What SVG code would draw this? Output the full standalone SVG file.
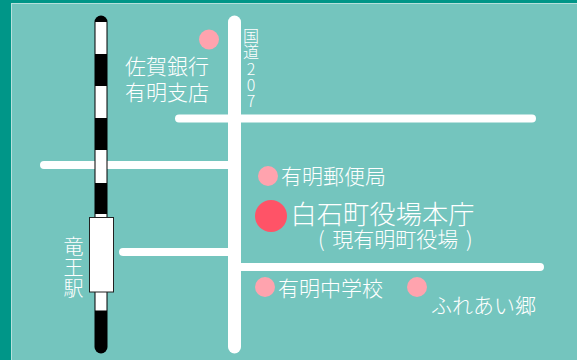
<svg xmlns="http://www.w3.org/2000/svg" width="577" height="360" viewBox="0 0 577 360">
<style>
.road{stroke:#fff;stroke-linecap:round;fill:none}
.spot{fill:#ffa3ae}
text{fill:#fff;font-family:"Noto Sans CJK JP","Noto Sans",sans-serif;font-weight:300}
.s21{font-size:21px}
.s20{font-size:20px}
.v{font-size:16px;text-anchor:middle}
</style>
<rect width="577" height="360" fill="#009688"/>
<rect x="11.500" y="3.500" width="566" height="357" fill="#74c5be" stroke="#b5e0dc" stroke-width="1"/>
<g id="connectors">
<path class="road" stroke-width="8" d="M44 165H234M179 118.500H532M123 252H234M234 267H540"/>
<path class="road" stroke-width="13" d="M234.500 22V347"/>
</g>
<g id="railway">
<path d="M101 22V347" stroke="#000" stroke-width="13" stroke-linecap="round" fill="none"/>
<rect x="95.500" y="22" width="11" height="32" fill="#fff"/>
<rect x="95.500" y="86" width="11" height="32" fill="#fff"/>
<rect x="95.500" y="150" width="11" height="33" fill="#fff"/>
<rect x="95.500" y="214" width="11" height="96.500" fill="#fff"/>
</g>
<g id="station">
<rect x="89.500" y="217.500" width="24" height="74.500" fill="#fff" stroke="#222" stroke-width="1"/>
<text class="s20" x="63.500 63.500 63.500" y="254 275 296">竜王駅</text>
</g>
<g id="bank">
<circle class="spot" cx="209" cy="39.500" r="10"/>
<text class="s21" x="125" y="73.500">佐賀銀行</text>
<text class="s21" x="125" y="100">有明支店</text>
</g>
<g id="route207">
<text class="v" x="251 251 251 251 251" y="42 58 74.500 90.500 106.500">国道207</text>
</g>
<g id="post">
<circle class="spot" cx="268" cy="176" r="10"/>
<text class="s21" x="281" y="184">有明郵便局</text>
</g>
<g id="townhall">
<circle cx="271" cy="216" r="16" fill="#ff5367"/>
<text x="290.500" y="223.500" style="font-size:26.300px">白石町役場本庁</text>
<text x="318" y="247" style="font-size:21px;word-spacing:3px">( 現有明町役場 )</text>
</g>
<g id="school">
<circle class="spot" cx="265" cy="287" r="10"/>
<text class="s21" x="278" y="295.500">有明中学校</text>
</g>
<g id="fureai">
<circle class="spot" cx="417" cy="287" r="10"/>
<text class="s21" x="431" y="313">ふれあい郷</text>
</g>
</svg>
